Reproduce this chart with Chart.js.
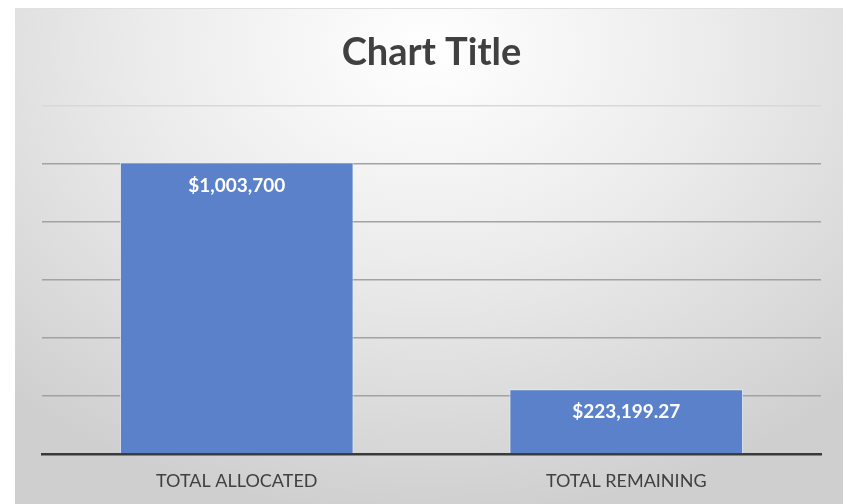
<!DOCTYPE html>
<html>
<head>
<meta charset="utf-8">
<script src="https://cdn.jsdelivr.net/npm/chart.js@4"></script>
<style>
  html, body { margin:0; padding:0; background:#ffffff; width:848px; height:504px; overflow:hidden; }
  #box {
    position:absolute; left:15px; top:8px; width:828px; height:496px;
    background: radial-gradient(ellipse 75% 95% at 50% 8%, #ffffff 0%, #ececec 45%, #cfcfcf 100%);
    border-top:1px solid #e0e0e0; box-sizing:border-box;
  }
  #c { display:block; }
</style>
</head>
<body>
<div id="box"><canvas id="c" width="828" height="496"></canvas></div>
<script>
const categories = ["TOTAL ALLOCATED", "TOTAL REMAINING"];
const values = [1003700, 223199.27];
const valueLabels = ["$1,003,700", "$223,199.27"];
const yMax = 1200000;
const yStep = 200000;

const labelPlugin = {
  id: 'barLabels',
  afterDatasetsDraw(chart) {
    const ctx = chart.ctx;
    const meta = chart.getDatasetMeta(0);
    ctx.save();
    ctx.fillStyle = '#ffffff';
    ctx.font = 'bold 19px Lato';
    ctx.textAlign = 'center';
    ctx.textBaseline = 'middle';
    meta.data.forEach((bar, i) => {
      ctx.fillText(valueLabels[i], bar.x, bar.y + 23);
    });
    ctx.restore();
  }
};

new Chart(document.getElementById('c'), {
  type: 'bar',
  data: {
    labels: categories,
    datasets: [{
      data: values,
      backgroundColor: '#5a81c9',
      borderColor: 'rgba(235,240,250,0.8)',
      borderWidth: 1,
      barPercentage: 0.6,
      categoryPercentage: 1.0
    }]
  },
  options: {
    responsive: false,
    animation: false,
    layout: { padding: { left: 27, right: 22, top: 0, bottom: 0 } },
    plugins: {
      legend: { display: false },
      tooltip: { enabled: false },
      title: {
        display: true,
        text: 'Chart Title',
        color: '#404040',
        font: { family: 'Lato', size: 38, weight: 'bold' },
        padding: { top: 21, bottom: 30 }
      }
    },
    scales: {
      x: {
        afterFit(scale) { scale.height = 51; },
        grid: { display: false },
        border: { display: true, color: '#3a3a3a', width: 2.5 },
        ticks: { color: '#404040', font: { family: 'Lato', size: 18 }, padding: 8 }
      },
      y: {
        min: 0, max: yMax,
        afterFit(scale) { scale.width = 0; },
        ticks: { display: false, stepSize: yStep },
        border: { display: false },
        grid: {
          color: (c) => (c.tick && c.tick.value === 0) ? 'rgba(0,0,0,0)' : (c.tick && c.tick.value === yMax ? '#d8d8d8' : '#a2a2a2'),
          lineWidth: 1.5,
          drawTicks: false
        }
      }
    }
  },
  plugins: [labelPlugin]
});
</script>
</body>
</html>
